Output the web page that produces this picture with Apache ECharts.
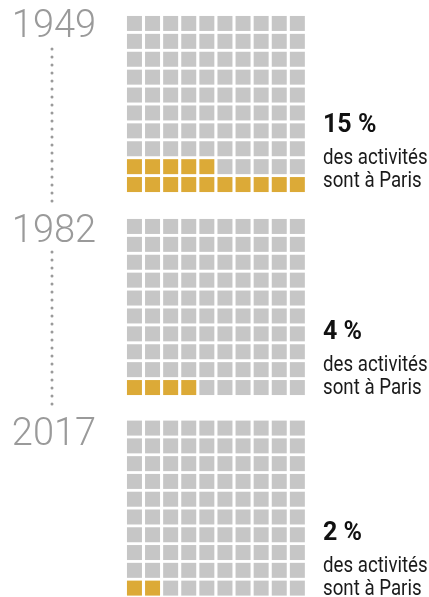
<!DOCTYPE html>
<html><head><meta charset="utf-8">
<script src="https://cdn.jsdelivr.net/npm/echarts@6/dist/echarts.min.js"></script>
<style>html,body{margin:0;padding:0;background:#fff}#c{width:429px;height:597px}</style>
</head><body><div id="c"></div>
<script>
// ---- data ----
const years = ['1949', '1982', '2017'];
const shares = [15, 4, 2];           // cells out of 100 located in Paris
const gridSize = 10;                  // 10 x 10 waffle
const subLine1 = 'des activités';
const subLine2 = 'sont à Paris';

// ---- layout (not data) ----
const gold = '#dcaa37', grey = '#c6c6c6', yearGrey = '#9a9a9a';
const gridTops = [14.5, 217.5, 419.2];
const gridH = 179, gridW = 181, gridLeft = 125.4;
const yearMid = [27.5, 232, 435];
const textX = 323;
const bigBase = [135, 342, 543];

const chart = echarts.init(document.getElementById('c'), null, {renderer: 'canvas'});
const grid = [], xAxis = [], yAxis = [], series = [], graphic = [];

years.forEach((yr, k) => {
  grid.push({left: gridLeft, top: gridTops[k], width: gridW, height: gridH});
  xAxis.push({gridIndex: k, type: 'value', min: -0.5, max: gridSize - 0.5, show: false});
  yAxis.push({gridIndex: k, type: 'value', min: -0.5, max: gridSize - 0.5, show: false});
  const data = [];
  for (let i = 0; i < gridSize * gridSize; i++) {
    const col = i % gridSize, row = Math.floor(i / gridSize);
    data.push({value: [col, row], itemStyle: {color: i < shares[k] ? gold : grey, opacity: 1}});
  }
  series.push({
    type: 'scatter', xAxisIndex: k, yAxisIndex: k, symbol: 'rect',
    symbolSize: [15, 15], data, silent: true, animation: false,
    itemStyle: {opacity: 1}
  });
  // year label
  graphic.push({type: 'text', x: 54, y: yearMid[k],
    style: {text: yr, fill: yearGrey, font: '300 38px Roboto, "DejaVu Sans", sans-serif',
      align: 'center', verticalAlign: 'middle'}});
  // right texts
  const b = bigBase[k];
  graphic.push({type: 'text', x: textX, y: b - 9,
    style: {text: shares[k] + ' %', fill: '#111', font: 'bold 25px Roboto, sans-serif',
      align: 'left', verticalAlign: 'middle'}});
  graphic.push({type: 'text', x: textX, y: b + 31 - 8, scaleX: 0.85,
    style: {text: subLine1, fill: '#1a1a1a', font: '22px Roboto, sans-serif',
      align: 'left', verticalAlign: 'middle'}});
  graphic.push({type: 'text', x: textX, y: b + 54 - 8, scaleX: 0.85,
    style: {text: subLine2, fill: '#1a1a1a', font: '22px Roboto, sans-serif',
      align: 'left', verticalAlign: 'middle'}});
});

// dotted timeline connectors
[[49, 207], [252, 408]].forEach(([y1, y2]) => {
  graphic.push({type: 'line', shape: {x1: 52, y1, x2: 52, y2},
    style: {stroke: '#9a9a9a', lineWidth: 3, lineDash: [0, 8], lineCap: 'round'}});
});

chart.setOption({animation: false, grid, xAxis, yAxis, series, graphic});
</script></body></html>
